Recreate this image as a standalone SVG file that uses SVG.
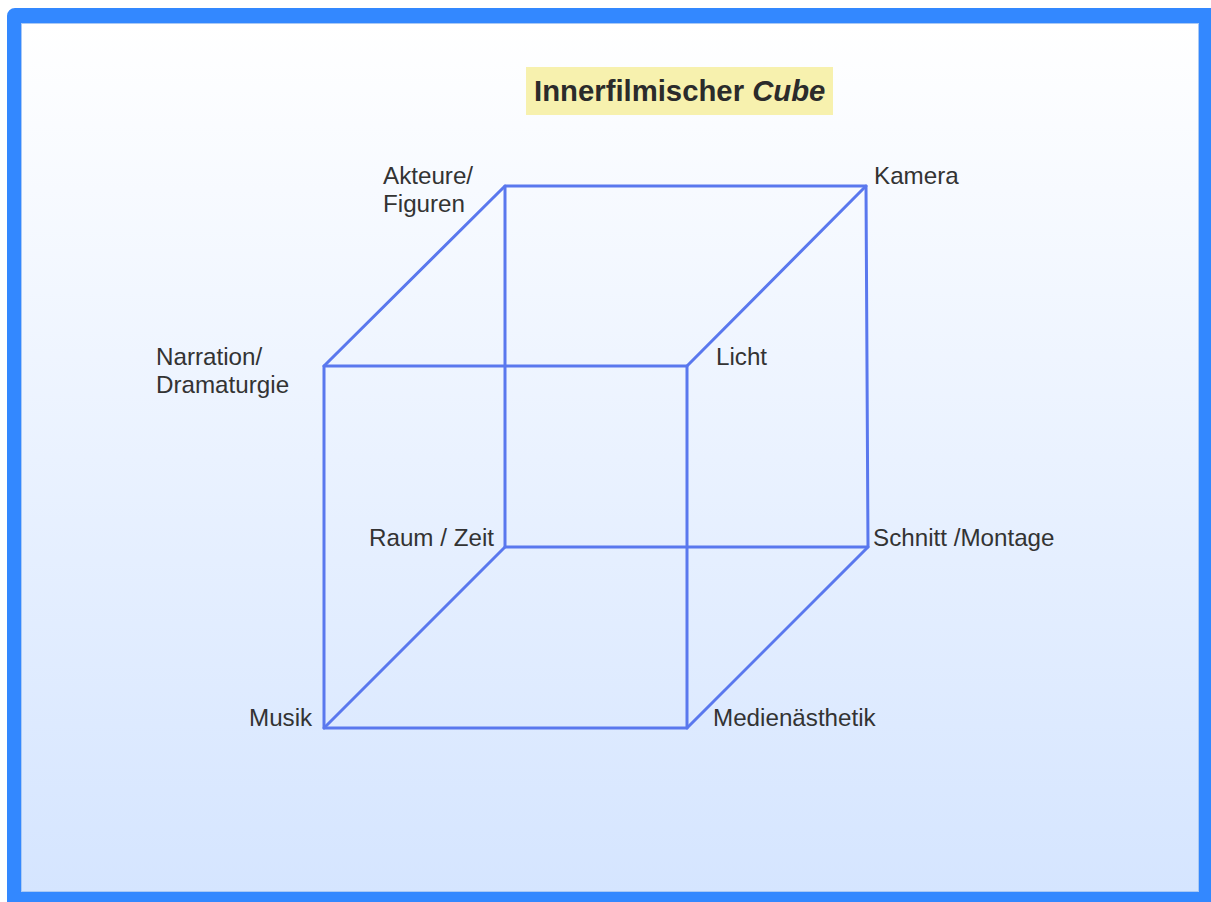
<svg xmlns="http://www.w3.org/2000/svg" width="1211" height="902" viewBox="0 0 1211 902">
  <defs>
    <linearGradient id="bg" x1="0" y1="0" x2="0" y2="1">
      <stop offset="0" stop-color="#ffffff"/>
      <stop offset="1" stop-color="#d5e5ff"/>
    </linearGradient>
    <style>
      .edge { stroke: #5a78ee; stroke-width: 3; fill: none; stroke-linecap: round; stroke-linejoin: round; }
      .lbl { font-family: "Liberation Sans", Arial, sans-serif; font-size: 24.2px; fill: #333333; }
      .title { font-family: "Liberation Sans", Arial, sans-serif; font-size: 29.3px; font-weight: bold; fill: #2b2b2b; }
    </style>
  </defs>

  <!-- page frame: light panel inside a thick blue border running off the right and bottom edges -->
  <rect x="21" y="23" width="1178" height="869" fill="url(#bg)"/>
  <path fill="#3388ff" fill-rule="evenodd"
        d="M15,8 H1225 V915 H7 V16 A8,8 0 0 1 15,8 Z M21,23 V892 H1199 V23 Z"/>
  <rect x="21.5" y="23.5" width="1177" height="868" fill="none" stroke="#a9c9f5" stroke-width="1"/>

  <!-- title -->
  <g id="title">
    <rect x="526" y="67" width="307" height="48" fill="#f7f1ae"/>
    <text class="title" x="534" y="101">Innerfilmischer <tspan font-style="italic">Cube</tspan></text>
  </g>

  <!-- cube edges -->
  <g id="connectors">
    <!-- front face -->
    <rect class="edge" x="324" y="366" width="363" height="362"/>
    <!-- back face -->
    <path class="edge" d="M505,186 L866,186 L868,547 L505,547 Z"/>
    <!-- depth edges -->
    <line class="edge" x1="324" y1="366" x2="505" y2="186"/>
    <line class="edge" x1="687" y1="366" x2="866" y2="186"/>
    <line class="edge" x1="324" y1="728" x2="505" y2="547"/>
    <line class="edge" x1="687" y1="728" x2="868" y2="547"/>
  </g>

  <!-- corner labels -->
  <g id="akteure">
    <text class="lbl" x="383" y="184">Akteure/</text>
    <text class="lbl" x="383" y="212">Figuren</text>
  </g>
  <g id="kamera"><text class="lbl" x="874" y="184">Kamera</text></g>
  <g id="narration">
    <text class="lbl" x="156" y="365">Narration/</text>
    <text class="lbl" x="156" y="393">Dramaturgie</text>
  </g>
  <g id="licht"><text class="lbl" x="716" y="365">Licht</text></g>
  <g id="raumzeit"><text class="lbl" x="369" y="546">Raum / Zeit</text></g>
  <g id="schnitt"><text class="lbl" x="873" y="546">Schnitt /Montage</text></g>
  <g id="musik"><text class="lbl" x="249" y="726">Musik</text></g>
  <g id="medien"><text class="lbl" x="713" y="726">Medienästhetik</text></g>
</svg>
